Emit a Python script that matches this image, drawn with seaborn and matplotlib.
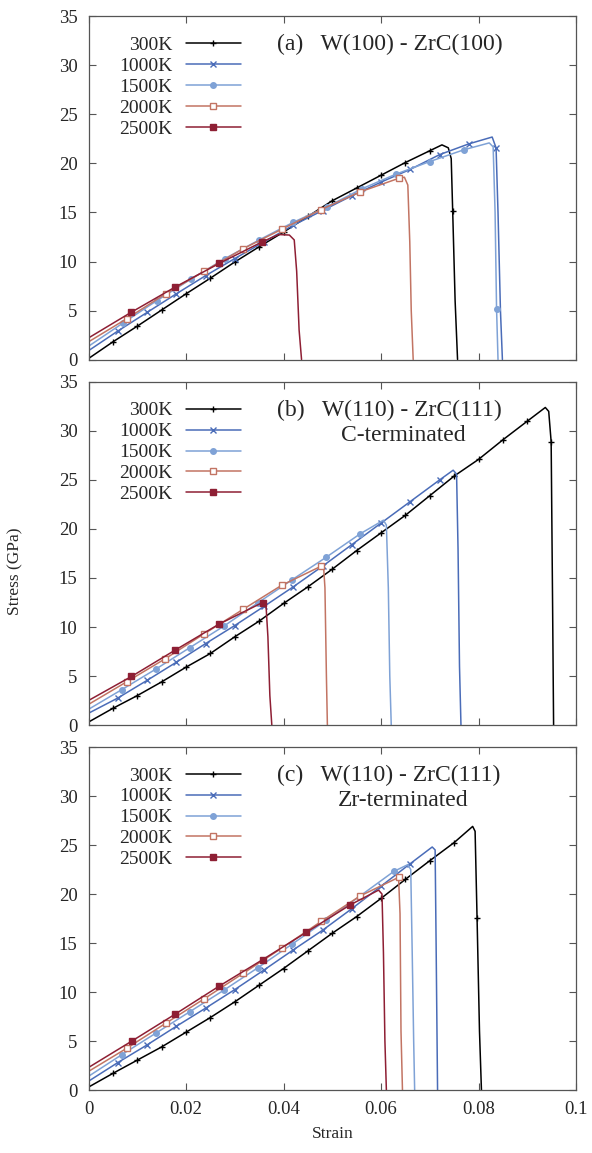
import matplotlib
matplotlib.use("Agg")
import matplotlib.pyplot as plt
import seaborn as sns

sns.set_style("ticks")
plt.rcParams["font.family"] = ["Liberation Serif", "DejaVu Serif"]
plt.rcParams["mathtext.fontset"] = "stix"

# ==============================
# DATA (strain, stress in GPa)
# ==============================
temps = ["300K", "1000K", "1500K", "2000K", "2500K"]

# (a) W(100) - ZrC(100)
a_300_x = [0, 0.005, 0.01, 0.015, 0.02, 0.025, 0.03, 0.035, 0.04, 0.045, 0.05, 0.055, 0.06, 0.065, 0.07, 0.0725, 0.0738, 0.0744, 0.0747, 0.0752, 0.0757]
a_300_y = [0.1, 1.8, 3.4, 5.05, 6.7, 8.3, 9.95, 11.5, 13.0, 14.6, 16.2, 17.5, 18.8, 20.1, 21.3, 21.9, 21.6, 20.5, 15.2, 6.0, 0]
a_1000_x = [0, 0.006, 0.012, 0.018, 0.024, 0.03, 0.036, 0.042, 0.048, 0.054, 0.06, 0.066, 0.072, 0.078, 0.0828, 0.0836, 0.084, 0.0845, 0.0849]
a_1000_y = [0.9, 2.9, 4.8, 6.7, 8.55, 10.3, 12.0, 13.7, 15.2, 16.7, 18.1, 19.4, 20.9, 22.0, 22.7, 21.6, 15.0, 5.0, 0]
a_1500_x = [0, 0.007, 0.014, 0.021, 0.028, 0.035, 0.042, 0.049, 0.056, 0.063, 0.07, 0.077, 0.0822, 0.083, 0.0834, 0.0837, 0.084]
a_1500_y = [1.35, 3.7, 6.0, 8.2, 10.3, 12.2, 14.0, 15.6, 17.4, 18.9, 20.2, 21.4, 22.1, 21.7, 15.0, 5.2, 0]
a_2000_x = [0, 0.0078, 0.0158, 0.0237, 0.0317, 0.0397, 0.0477, 0.0557, 0.0637, 0.0648, 0.0655, 0.0659, 0.0662, 0.0666]
a_2000_y = [1.8, 4.15, 6.7, 9.0, 11.3, 13.3, 15.3, 17.1, 18.5, 18.6, 17.8, 12.0, 5.0, 0]
a_2500_x = [0, 0.0087, 0.0178, 0.0268, 0.0356, 0.039, 0.0412, 0.0422, 0.0427, 0.0432, 0.0437]
a_2500_y = [2.2, 4.8, 7.4, 9.8, 12.0, 12.75, 12.7, 12.2, 9.0, 3.0, 0]

# (b) W(110) - ZrC(111), C-terminated
b_300_x = [0, 0.005, 0.01, 0.015, 0.02, 0.025, 0.03, 0.035, 0.04, 0.045, 0.05, 0.055, 0.06, 0.065, 0.07, 0.075, 0.08, 0.085, 0.09, 0.0937, 0.0944, 0.0949, 0.0952, 0.0954]
b_300_y = [0.3, 1.7, 3.0, 4.4, 5.9, 7.3, 9.0, 10.6, 12.4, 14.1, 15.9, 17.8, 19.6, 21.4, 23.4, 25.4, 27.1, 29.1, 31.0, 32.4, 32.0, 28.9, 12.0, 0]
b_1000_x = [0, 0.006, 0.012, 0.018, 0.024, 0.03, 0.036, 0.042, 0.048, 0.054, 0.06, 0.066, 0.072, 0.0748, 0.0755, 0.0758, 0.0761, 0.0764]
b_1000_y = [1.2, 2.75, 4.55, 6.4, 8.3, 10.15, 12.1, 14.1, 16.2, 18.4, 20.6, 22.8, 25.0, 26.0, 25.6, 18.0, 6.0, 0]
b_1500_x = [0, 0.0068, 0.0138, 0.0208, 0.0278, 0.0347, 0.0417, 0.0487, 0.0557, 0.0605, 0.0611, 0.0615, 0.0618, 0.0621]
b_1500_y = [1.6, 3.6, 5.7, 7.9, 10.1, 12.45, 14.8, 17.1, 19.5, 20.9, 20.4, 14.0, 5.0, 0]
b_2000_x = [0, 0.0078, 0.0157, 0.0237, 0.0317, 0.0396, 0.0477, 0.0482, 0.0485, 0.0488, 0.049]
b_2000_y = [2.1, 4.4, 6.75, 9.3, 11.8, 14.25, 16.2, 16.3, 14.0, 5.0, 0]
b_2500_x = [0, 0.0088, 0.0178, 0.0268, 0.0357, 0.0364, 0.0368, 0.0372, 0.0376]
b_2500_y = [2.5, 4.95, 7.65, 10.3, 12.5, 12.3, 9.0, 3.0, 0]

# (c) W(110) - ZrC(111), Zr-terminated
c_300_x = [0, 0.005, 0.01, 0.015, 0.02, 0.025, 0.03, 0.035, 0.04, 0.045, 0.05, 0.055, 0.06, 0.065, 0.07, 0.075, 0.0788, 0.0793, 0.0797, 0.0802, 0.0806]
c_300_y = [0.3, 1.7, 3.05, 4.4, 5.9, 7.4, 9.0, 10.7, 12.4, 14.2, 16.0, 17.7, 19.55, 21.5, 23.4, 25.25, 26.9, 26.4, 17.6, 6.0, 0]
c_1000_x = [0, 0.006, 0.012, 0.018, 0.024, 0.03, 0.036, 0.042, 0.048, 0.054, 0.06, 0.066, 0.0705, 0.0711, 0.0713, 0.0716]
c_1000_y = [0.9, 2.8, 4.6, 6.5, 8.35, 10.25, 12.25, 14.3, 16.3, 18.5, 20.8, 23.1, 24.8, 24.5, 15.0, 0]
c_1500_x = [0, 0.0068, 0.0138, 0.0208, 0.0278, 0.0348, 0.0418, 0.0487, 0.0557, 0.0626, 0.0655, 0.0661, 0.0664, 0.0667, 0.0669]
c_1500_y = [1.4, 3.6, 5.8, 8.0, 10.2, 12.5, 14.9, 17.3, 19.8, 22.3, 23.0, 22.5, 14.0, 5.0, 0]
c_2000_x = [0, 0.0078, 0.0158, 0.0237, 0.0317, 0.0397, 0.0477, 0.0557, 0.0636, 0.0639, 0.0641, 0.0644]
c_2000_y = [1.9, 4.25, 6.8, 9.3, 11.9, 14.5, 17.2, 19.8, 21.7, 18.0, 6.0, 0]
c_2500_x = [0, 0.0089, 0.0178, 0.0268, 0.0357, 0.0447, 0.0537, 0.0595, 0.0602, 0.0605, 0.0608, 0.0611]
c_2500_y = [2.3, 5.0, 7.75, 10.6, 13.3, 16.1, 18.9, 20.4, 20.0, 14.0, 5.0, 0]

# which points carry a marker
a_marks = [list(range(1, 15)) + [18], list(range(1, 14)) + [15], list(range(1, 12)) + [15], list(range(1, 9)), list(range(1, 5))]
b_marks = [list(range(1, 19)) + [21], list(range(1, 13)), list(range(1, 9)), list(range(1, 7)), list(range(1, 5))]
c_marks = [list(range(1, 16)) + [18], list(range(1, 12)), list(range(1, 10)), list(range(1, 9)), list(range(1, 7))]

panels = [
    ("(a)   W(100) - ZrC(100)", None,
     [(a_300_x, a_300_y), (a_1000_x, a_1000_y), (a_1500_x, a_1500_y), (a_2000_x, a_2000_y), (a_2500_x, a_2500_y)], a_marks),
    ("(b)   W(110) - ZrC(111)", "C-terminated",
     [(b_300_x, b_300_y), (b_1000_x, b_1000_y), (b_1500_x, b_1500_y), (b_2000_x, b_2000_y), (b_2500_x, b_2500_y)], b_marks),
    ("(c)   W(110) - ZrC(111)", "Zr-terminated",
     [(c_300_x, c_300_y), (c_1000_x, c_1000_y), (c_1500_x, c_1500_y), (c_2000_x, c_2000_y), (c_2500_x, c_2500_y)], c_marks),
]

# ==============================
# STYLE
# ==============================
colors = ["#000000", "#4a6cb8", "#7fa2d6", "#c27463", "#8e1f34"]
markers = ["+", "x", "o", "s", "s"]
msizes = [5, 4, 4, 5, 4.5]
facecols = ["#000000", "#4a6cb8", "#7fa2d6", "white", "#8e1f34"]

fig = plt.figure(figsize=(5.92, 11.53), dpi=100)
left, width, height = 0.1495, 0.8235, 0.2975
bottoms = [0.6882, 0.3712, 0.0546]

for i, (title, subtitle, series, marks) in enumerate(panels):
    ax = fig.add_axes([left, bottoms[i], width, height])
    for j, (xs, ys) in enumerate(series):
        sns.lineplot(x=xs, y=ys, ax=ax, color=colors[j], lw=1.1, sort=False,
                     marker=markers[j], markersize=msizes[j], markevery=marks[j],
                     markerfacecolor=facecols[j], markeredgecolor=colors[j],
                     markeredgewidth=1.0, label=temps[j], legend=False)
    ax.set_xlim(0, 0.1)
    ax.set_ylim(0, 35)
    ax.set_xticks([0, 0.02, 0.04, 0.06, 0.08, 0.1])
    ax.set_xticklabels(["0", "0.02", "0.04", "0.06", "0.08", "0.1"])
    ax.set_yticks(range(0, 36, 5))
    ax.tick_params(direction="in", top=True, right=True, length=5, width=0.8,
                   labelsize=13.5, color="#555555", pad=8)
    for sp in ax.spines.values():
        sp.set_color("#555555")
        sp.set_linewidth(0.9)
    if i < 2:
        ax.tick_params(labelbottom=False)
    ax.text(0.387, 0.918, title, transform=ax.transAxes, fontsize=17, va="center")
    if subtitle:
        ax.text(0.645, 0.843, subtitle, transform=ax.transAxes, fontsize=17,
                va="center", ha="center")
    ax.legend(handles=ax.get_lines(), labels=temps, loc="upper left",
              bbox_to_anchor=(0.063, 0.942), frameon=False, markerfirst=False,
              fontsize=14, handlelength=2.8, handletextpad=0.7,
              labelspacing=0.17, borderpad=0, borderaxespad=0)
    ax.set_xlabel("")
    ax.set_ylabel("")
    if i == 2:
        ax.set_xlabel("Strain", fontsize=12.5, labelpad=6)

fig.text(15 / 592, 1 - 571 / 1153, "Stress (GPa)", rotation=90, fontsize=12.5,
         ha="center", va="center")

fig.savefig("out.png", dpi=100)
